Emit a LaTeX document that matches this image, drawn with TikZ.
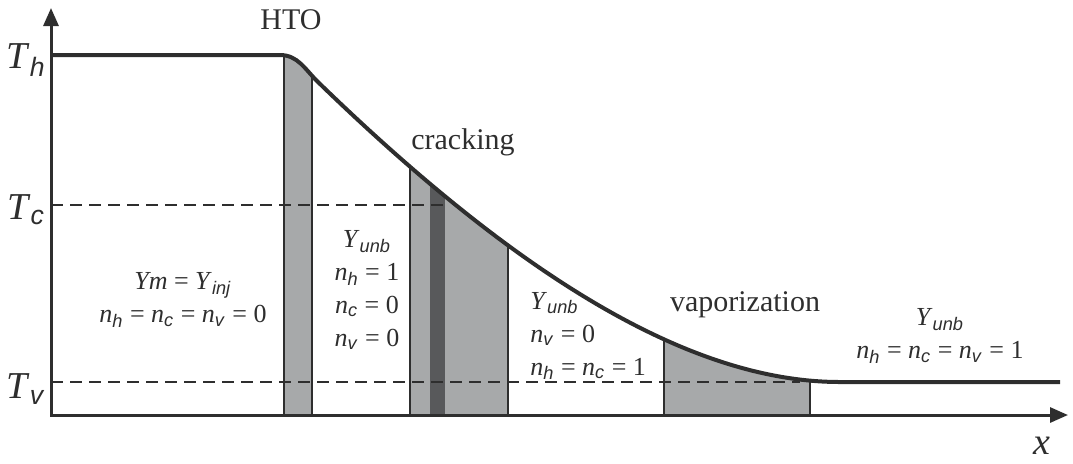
\documentclass[tikz,border=0pt]{standalone}
\usepackage{fontspec}
\setmainfont{Liberation Serif}
\setsansfont{Liberation Sans}
\usepackage{tikz}
\usetikzlibrary{arrows.meta}

\definecolor{linec}{HTML}{2E2E2E}
\definecolor{bandgray}{HTML}{A7A9AA}
\definecolor{darkband}{HTML}{58595B}

\newcommand\isub[1]{\textsf{\itshape #1}}
\newcommand\ivar[2]{\textit{#1}\textsubscript{\isub{#2}}}

\begin{document}
\begin{tikzpicture}[
  x=0.5pt, y=-0.5pt,
  axis/.style={line width=1.5pt, draw=linec, line join=miter,
    {Triangle[length=9pt,width=7.5pt]}-{Triangle[length=9pt,width=7.5pt]}},
  profile/.style={line width=2pt, draw=linec},
  guide/.style={dash pattern=on 6pt off 3.5pt, line width=0.7pt, draw=linec},
  band/.style={fill=bandgray, draw=linec, line width=0.6pt},
  zonelbl/.style={font=\fontsize{15}{18}\selectfont, text=linec},
  state/.style={font=\fontsize{13}{16.5}\selectfont, align=center, text=linec, inner sep=0pt},
  tlabel/.style={font=\fontsize{19}{22}\selectfont, text=linec, inner sep=0pt}
]
\useasboundingbox (0,0) rectangle (1073,463);
\coordinate (origin) at (51,415);

% shaded zones under the temperature profile
\begin{scope}
  \clip (51,55) -- (280,55) .. controls (298,55) and (305,69.4) .. (318,82)
    .. controls (518,276) and (690,382) .. (840,382) -- (1060,382)
    -- (1060,415) -- (origin) -- cycle;
  \filldraw[band] (284,0) rectangle (312,415);
  \filldraw[band] (410,0) rectangle (508,415);
  \fill[darkband] (430,0) rectangle (445,415);
  \filldraw[band] (664,0) rectangle (810,415);
\end{scope}

\draw[guide] (51,205) -- (445,205);
\draw[guide] (51,382) -- (800,382);

\draw[profile] (51,55) -- (280,55) .. controls (298,55) and (305,69.4) .. (318,82)
  .. controls (518,276) and (690,382) .. (840,382) -- (1060,382);

\draw[axis] (51,8) -- (origin) -- (1068,415);

\node[tlabel] (th) at (26,60)  {\ivar{T}{h}};
\node[tlabel] (tc) at (26,210) {\ivar{T}{c}};
\node[tlabel] (tv) at (26,389) {\ivar{T}{v}};
\node[tlabel] (xlab) at (1042,446) {\textit{x}};

\node[zonelbl] (hto)   at (291,20)  {HTO};
\node[zonelbl] (crack) at (463,142) {cracking};
\node[zonelbl] (vapor) at (745,305) {vaporization};

\node[state] (zone1) at (183,300)
  {\textit{Ym} = \ivar{Y}{inj}\\ \ivar{n}{h} = \ivar{n}{c} = \ivar{n}{v} = 0};
\node[state] (zone2) at (367,290)
  {\ivar{Y}{unb}\\ \ivar{n}{h} = 1\\ \ivar{n}{c} = 0\\ \ivar{n}{v} = 0};
\node[state, align=left, anchor=west] (zone3) at (530,336)
  {\ivar{Y}{unb}\\ \ivar{n}{v} = 0\\ \ivar{n}{h} = \ivar{n}{c} = 1};
\node[state] (zone4) at (940,336)
  {\ivar{Y}{unb}\\ \ivar{n}{h} = \ivar{n}{c} =\ \ivar{n}{v} = 1};
\end{tikzpicture}
\end{document}
